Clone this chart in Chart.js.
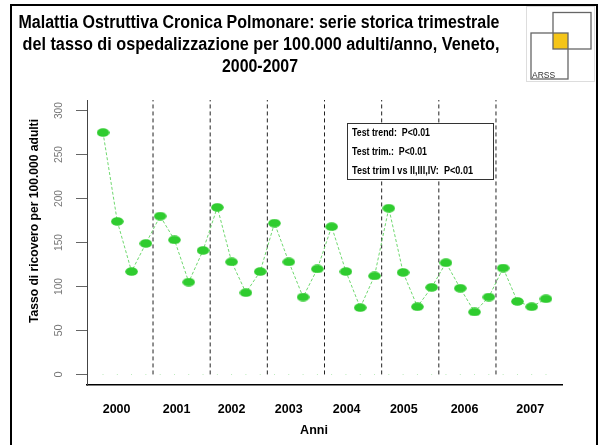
<!DOCTYPE html>
<html>
<head>
<meta charset="utf-8">
<script src="https://cdn.jsdelivr.net/npm/chart.js@4.4.1/dist/chart.umd.min.js"></script>
<style>
html,body{margin:0;padding:0;background:#fff}
#wrap{width:599px;height:445px}
</style>
</head>
<body>
<div id="wrap"><canvas id="c" width="599" height="445"></canvas></div>
<script>
// tasso trimestrale di ricovero, 2000-2007 (I,II,III,IV trimestre)
const rates = [275,174,117,149, 180,153,105,141, 190,128,93,117, 172,128,88,120,
               168,117,76,112, 189,116,77,99, 127,98,71,88, 121,83,77,86]
const years = ['2000','2001','2002','2003','2004','2005','2006','2007']
const yearTickAt = [0.95,5.15,9.0,13.0,17.05,21.05,25.3,29.9]
const yearBreaks = [3.5,7.5,11.5,15.5,19.5,23.5,27.5]
const yTicks = [0,50,100,150,200,250,300]
const titleLines = ['Malattia Ostruttiva Cronica Polmonare: serie storica trimestrale',
                    'del tasso di ospedalizzazione per 100.000 adulti/anno, Veneto,',
                    '2000-2007']
const testLines = ['Test trend:  P<0.01','Test trim.:  P<0.01','Test trim I vs II,III,IV:  P<0.01']

const FONT = "'Liberation Sans',Arial,sans-serif"
const GREEN = '#2fcc2f'

// punto ellittico come in R
let dot = document.createElement('canvas')
dot.width = 13; dot.height = 9
let dctx = dot.getContext('2d')
dctx.fillStyle = GREEN
dctx.beginPath()
dctx.ellipse(6.5,4.5,6.3,4.3,0,0,Math.PI*2)
dctx.fill()

let datasets = [{
  data: rates.map((v,i)=>({x:i,y:v})),
  borderColor:'#6fd86f',
  borderWidth:1,
  borderDash:[3,2],
  pointStyle:dot,
  pointRadius:6,
  clip:false
},{
  data: rates.map((v,i)=>({x:i,y:0})),
  showLine:false,
  pointStyle:'rect',
  pointRadius:0.6,
  pointBackgroundColor:'#9be09b',
  pointBorderWidth:0
}]

yearBreaks.forEach(b=>{
  datasets.push({
    data:[{x:b,y:0},{x:b,y:312}],
    borderColor:'#222',
    borderWidth:1,
    borderDash:[4,3],
    pointRadius:0
  })
})

const decor = {
  id:'decor',
  afterDraw(chart){
    let ctx = chart.ctx
    let ys = chart.scales.y
    ctx.save()

    // cornice
    ctx.strokeStyle = '#000'
    ctx.lineWidth = 2
    ctx.strokeRect(11,5,586,445)

    // titolo
    ctx.fillStyle = '#000'
    ctx.textAlign = 'center'
    ctx.textBaseline = 'alphabetic'
    ctx.font = 'bold 18px ' + FONT
    ctx.fillText(titleLines[0],259,28,481)
    ctx.fillText(titleLines[1],261,50,477)
    ctx.fillText(titleLines[2],260,72,76)

    // logo ARSS
    ctx.strokeStyle = '#ddd'
    ctx.lineWidth = 1
    ctx.strokeRect(526.5,6.5,68,75)
    ctx.fillStyle = '#f5c518'
    ctx.fillRect(553,33,15,16)
    ctx.strokeStyle = '#666'
    ctx.lineWidth = 1.3
    ctx.strokeRect(553,12.5,38,36.5)
    ctx.strokeRect(531,33,37,46)
    ctx.fillStyle = '#333'
    ctx.textAlign = 'left'
    ctx.font = '8.5px ' + FONT
    ctx.fillText('ARSS',532,77.5)

    // etichette asse y ruotate
    ctx.fillStyle = '#777'
    ctx.font = '11px ' + FONT
    ctx.textAlign = 'center'
    ctx.textBaseline = 'middle'
    yTicks.forEach(t=>{
      ctx.save()
      ctx.translate(59, ys.getPixelForValue(t))
      ctx.rotate(-Math.PI/2)
      ctx.fillText(String(t),0,0,17)
      ctx.restore()
    })

    // titoli assi
    ctx.fillStyle = '#000'
    ctx.font = 'bold 12.5px ' + FONT
    ctx.fillText('Anni',314,431)
    ctx.save()
    ctx.translate(35,221)
    ctx.rotate(-Math.PI/2)
    ctx.fillText('Tasso di ricovero per 100.000 adulti',0,0,204)
    ctx.restore()

    // riquadro test
    ctx.fillStyle = '#fff'
    ctx.fillRect(347,123,147,57)
    ctx.strokeStyle = '#333'
    ctx.lineWidth = 1
    ctx.strokeRect(347.5,123.5,146,56)
    ctx.fillStyle = '#000'
    ctx.textAlign = 'left'
    ctx.textBaseline = 'alphabetic'
    ctx.font = 'bold 11px ' + FONT
    ctx.fillText(testLines[0],352,135.5,78)
    ctx.fillText(testLines[1],352,154.5,75)
    ctx.fillText(testLines[2],352,173.5,121)

    ctx.restore()
  }
}

new Chart(document.getElementById('c'),{
  type:'line',
  data:{datasets:datasets},
  plugins:[decor],
  options:{
    responsive:false,
    animation:false,
    layout:{padding:{left:0,right:37,top:100,bottom:0}},
    plugins:{legend:{display:false},tooltip:{enabled:false}},
    scales:{
      x:{
        type:'linear',
        min:-1.12,
        max:32.12,
        afterFit(s){s.height=60},
        afterBuildTicks(s){s.ticks = yearTickAt.map(v=>({value:v}))},
        grid:{display:false},
        border:{display:true,color:'#000',width:1.5},
        ticks:{
          autoSkip:false,
          maxRotation:0,
          padding:9,
          color:'#000',
          font:{family:FONT,size:12.5,weight:'bold'},
          callback:(v,i)=>years[i]
        }
      },
      y:{
        min:-12,
        max:312,
        afterFit(s){s.width=87},
        afterBuildTicks(s){s.ticks = yTicks.map(v=>({value:v}))},
        grid:{drawOnChartArea:false,drawTicks:true,tickLength:11,color:'#666'},
        border:{display:true,color:'#444',width:1},
        ticks:{display:false}
      }
    }
  }
})
</script>
</body>
</html>
